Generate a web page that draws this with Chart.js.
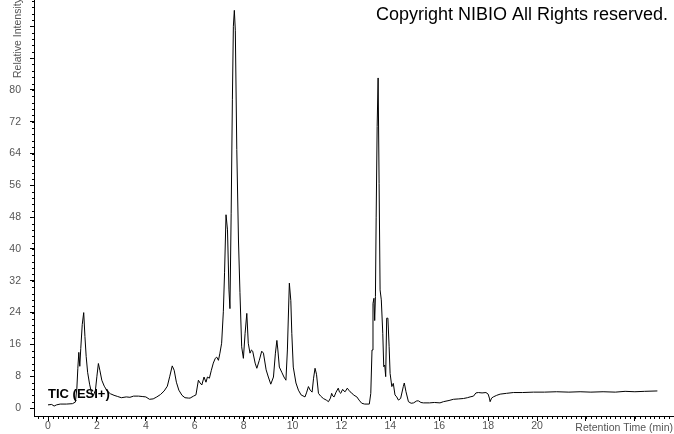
<!DOCTYPE html>
<html><head><meta charset="utf-8">
<script src="https://cdn.jsdelivr.net/npm/chart.js@4.4.0/dist/chart.umd.min.js"></script>
<style>html,body{margin:0;padding:0;background:#fff;}#wrap{width:674px;height:434px;position:relative;}</style>
</head><body><div id="wrap"><canvas id="c" width="674" height="434"></canvas></div>
<script>
const retentionTimes = [0.00,0.15,0.25,0.35,0.50,0.75,1.00,1.12,1.18,1.22,1.26,1.30,1.34,1.40,1.46,1.51,1.56,1.62,1.70,1.78,1.86,1.94,2.00,2.06,2.12,2.20,2.30,2.42,2.55,2.70,2.85,3.00,3.20,3.35,3.50,3.70,3.85,4.00,4.15,4.30,4.45,4.60,4.75,4.88,4.98,5.08,5.16,5.25,5.35,5.48,5.60,5.75,5.81,5.95,6.05,6.15,6.22,6.29,6.38,6.46,6.52,6.60,6.68,6.76,6.84,6.90,6.97,7.03,7.10,7.17,7.22,7.28,7.34,7.40,7.44,7.49,7.54,7.58,7.62,7.66,7.72,7.79,7.85,7.92,7.99,8.06,8.13,8.19,8.26,8.32,8.37,8.47,8.54,8.64,8.74,8.81,8.92,9.01,9.11,9.22,9.30,9.36,9.40,9.46,9.56,9.65,9.73,9.79,9.84,9.87,9.93,9.97,10.03,10.14,10.24,10.35,10.51,10.58,10.65,10.72,10.80,10.86,10.92,10.98,11.06,11.15,11.26,11.38,11.47,11.55,11.60,11.65,11.70,11.78,11.87,11.92,11.97,12.05,12.10,12.15,12.24,12.30,12.35,12.42,12.49,12.63,12.72,12.83,12.95,13.14,13.20,13.25,13.29,13.33,13.36,13.39,13.42,13.46,13.50,13.54,13.58,13.63,13.69,13.73,13.77,13.81,13.85,13.90,13.95,13.99,14.06,14.12,14.19,14.26,14.33,14.42,14.53,14.57,14.64,14.74,14.85,14.95,15.08,15.15,15.25,15.35,15.60,15.80,16.03,16.17,16.40,16.58,16.80,16.99,17.15,17.26,17.40,17.50,17.60,17.75,17.91,18.00,18.05,18.08,18.14,18.21,18.35,18.49,18.75,19.03,19.40,19.85,20.30,20.80,21.30,21.76,22.20,22.70,23.20,23.60,24.00,24.40,24.92];
const relativeIntensity = [0.8,0.9,0.5,0.8,1.0,1.0,1.1,1.5,5,10,14,10.5,15,21,24,18,13,9,6,3.8,3.2,4.5,8,11.2,9.5,7,5.5,4.3,3.6,3.2,2.9,2.6,2.8,2.7,3.0,3.0,2.9,2.8,2.2,2.3,2.8,3.4,4.3,5.5,8,10.6,9.5,6.5,4.5,3.2,2.6,2.5,2.5,3.0,3.3,7.0,6.3,5.8,7.8,6.5,7.8,7.5,9.5,11.3,12.5,12.8,12.0,13.8,16.3,24.2,34,48.6,44.8,29.7,25,49,77.5,96,100,95,65,42,29,15.4,12.5,18.8,23.8,16.3,13.8,14.6,14.3,11.3,10,12,14.3,13.8,9.6,7.8,6,7.8,13.8,17,14.6,10.3,9,7.8,7,14.6,25.4,31.4,27,18.8,10.3,6.3,4.5,3.3,2.8,4,5.4,4.5,4.0,7.5,10,8.5,3.7,3.0,2.4,2.0,1.6,2.5,3.7,3.0,2.8,4.0,5,4.0,3.7,4.7,4.3,4.1,5,4.5,4.1,3.8,3.3,2.8,2.0,1.2,1.0,1.0,3.7,14.6,26.3,27.6,22,28,48,70.8,83,56.5,29.7,27.2,18.8,10.4,10.8,7.9,22.6,22.6,15.4,8.7,5.4,6.2,3.3,2.8,2.0,2.4,5.4,6.3,4.1,1.6,1.2,1.3,1.8,1.8,1.4,1.3,1.3,1.4,1.3,1.6,1.9,2.2,2.3,2.4,2.6,2.8,3.0,3.8,3.9,3.8,3.9,3.5,2.5,1.6,2.5,2.8,3.2,3.5,3.7,3.9,3.9,4.0,4.0,4.1,4.0,4.1,4.0,4.1,4.0,4.2,4.1,4.2,4.3];
const xTickLabels = ['0','2','4','6','8','10','12','14','16','18','20'];
const yTickLabels = ['0','8','16','24','32','40','48','56','64','72','80'];
const xTitle = 'Retention Time (min)';
const yTitle = 'Relative Intensity';
const traceLabel = 'TIC (ESI+)';
const copyrightText = 'Copyright NIBIO All Rights reserved.';

const FONT = '"Liberation Sans", Arial, sans-serif';
const GRAY = '#555';

const extras = {
  id: 'extras',
  beforeDatasetsDraw(chart) {
    const ctx = chart.ctx;
    ctx.save();
    ctx.fillStyle = '#000';
    ctx.font = 'bold 13px ' + FONT;
    ctx.textAlign = 'left';
    ctx.textBaseline = 'alphabetic';
    ctx.fillText(traceLabel, 48, 398);
    ctx.restore();
  },
  afterDraw(chart) {
    const {ctx, chartArea: a, scales: {x, y}} = chart;
    ctx.save();
    ctx.strokeStyle = '#000';
    ctx.lineWidth = 1;
    ctx.beginPath();
    for (let i = -2; i <= 128; i++) {
      const px = Math.round(x.getPixelForValue(i * 0.2)) + 0.5;
      if (px < a.left || px > a.right) continue;
      ctx.moveTo(px, a.bottom);
      ctx.lineTo(px, a.bottom + 3);
    }
    for (let i = 0; i <= 64; i++) {
      const py = Math.round(y.getPixelForValue(i * 1.6)) + 0.5;
      if (py < a.top) continue;
      ctx.moveTo(a.left, py);
      ctx.lineTo(a.left - 2, py);
    }
    ctx.stroke();

    ctx.fillStyle = GRAY;
    ctx.font = '10.5px ' + FONT;
    ctx.textAlign = 'right';
    ctx.textBaseline = 'alphabetic';
    ctx.fillText(xTitle, 673, 430.5);

    ctx.save();
    ctx.translate(21, 78);
    ctx.rotate(-Math.PI / 2);
    ctx.textAlign = 'left';
    ctx.fillText(yTitle, 0, 0);
    ctx.restore();

    ctx.fillStyle = '#000';
    ctx.font = '18px ' + FONT;
    ctx.textAlign = 'right';
    ctx.fillText(copyrightText, 668, 19.5);
    ctx.restore();
  }
};

new Chart(document.getElementById('c'), {
  type: 'line',
  data: {
    datasets: [{
      data: retentionTimes.map((t, i) => ({x: t, y: relativeIntensity[i]})),
      borderColor: '#000',
      borderWidth: 1,
      pointRadius: 0,
      tension: 0,
      fill: false
    }]
  },
  options: {
    responsive: false,
    animation: false,
    events: [],
    layout: {padding: 0},
    plugins: {legend: {display: false}, tooltip: {enabled: false}, title: {display: false}},
    scales: {
      x: {
        type: 'linear',
        min: -0.573,
        max: 25.6,
        afterFit(s) { s.height = 18; s.paddingLeft = 0; s.paddingRight = 0; },
        grid: {display: true, drawOnChartArea: false, drawTicks: true, tickLength: 5, color: '#000'},
        border: {display: true, color: '#000', width: 1},
        ticks: {
          stepSize: 2,
          includeBounds: false,
          autoSkip: false,
          maxRotation: 0,
          padding: -1,
          color: GRAY,
          font: {family: FONT, size: 10.5},
          callback: v => xTickLabels.includes(String(Math.round(v))) && Math.abs(v - Math.round(v)) < 1e-6 ? String(Math.round(v)) : ''
        }
      },
      y: {
        type: 'linear',
        min: -2.0,
        max: 102.6,
        afterFit(s) { s.width = 34; s.paddingTop = 0; s.paddingBottom = 0; },
        grid: {display: true, drawOnChartArea: false, drawTicks: true, tickLength: 4, color: '#000'},
        border: {display: true, color: '#000', width: 1},
        ticks: {
          stepSize: 8,
          includeBounds: false,
          padding: 9,
          color: GRAY,
          font: {family: FONT, size: 10.5},
          callback: v => yTickLabels.includes(String(Math.round(v))) && Math.abs(v - Math.round(v)) < 1e-6 ? String(Math.round(v)) : ''
        }
      }
    }
  },
  plugins: [extras]
});
</script>
</body></html>
